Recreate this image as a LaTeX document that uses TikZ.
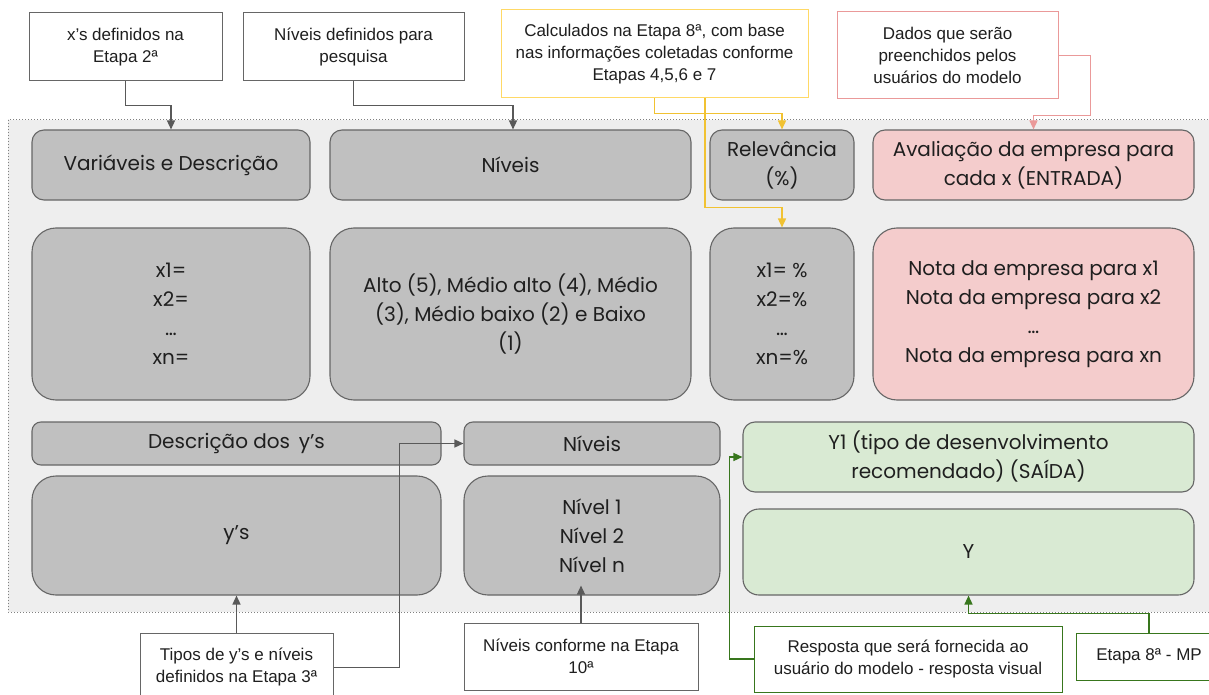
\documentclass[tikz,border=0pt]{standalone}
\usepackage{fontspec}
\setmainfont{Poppins}
\newfontfamily\notefont{Liberation Sans}
\usetikzlibrary{arrows.meta,calc}
\definecolor{ink}{HTML}{1F1F1F}
\definecolor{edge}{HTML}{666666}
\definecolor{boxgray}{HTML}{C0C0C0}
\definecolor{bggray}{HTML}{EEEEEE}
\definecolor{pinkfill}{HTML}{F4CCCC}
\definecolor{pinkline}{HTML}{EA9999}
\definecolor{greenfill}{HTML}{D9EAD3}
\definecolor{greenline}{HTML}{38761D}
\definecolor{yellowline}{HTML}{FFD966}
\definecolor{yellowarrow}{HTML}{F1C232}
\definecolor{arrowgray}{HTML}{595959}
\begin{document}
\begin{tikzpicture}[x=1pt,y=-1pt,
  panel/.style={draw=edge, line width=1.1pt, rounded corners=12pt, fill=boxgray,
    align=center, text=ink, inner sep=0pt, font=\fontsize{20}{29}\selectfont},
  bigpanel/.style={panel, rounded corners=24pt},
  entrada/.style={fill=pinkfill},
  saida/.style={fill=greenfill},
  note/.style={draw=edge, line width=1pt, fill=white, align=center, text=ink,
    inner sep=0pt, font=\notefont\fontsize{17}{22}\selectfont},
  conn/.style={line width=1.4pt, draw=arrowgray,
    -{Triangle[length=9pt,width=8pt,fill=arrowgray]}},
  yconn/.style={conn, line width=1.6pt, draw=yellowarrow, -{Triangle[length=9pt,width=8pt,fill=yellowarrow]}},
  pconn/.style={conn, draw=pinkline, -{Triangle[length=9pt,width=8pt,fill=pinkline]}},
  gconn/.style={conn, draw=greenline, -{Triangle[length=9pt,width=8pt,fill=greenline]}}]
\useasboundingbox (0,0) rectangle (1209,695);

% model area
\draw[fill=bggray, draw=gray, dotted, line width=1pt] (8,120) rectangle (1220,612);

% header row
\node[panel, minimum width=278, minimum height=70] (var) at (171,165) {Variáveis e Descrição};
\node[panel, minimum width=361, minimum height=70] (niv) at (510.5,165) {Níveis};
\node[panel, minimum width=144, minimum height=70] (rel) at (782,165) {Relevância\\(\%)};
\node[panel, entrada, minimum width=321, minimum height=70] (aval) at (1033.5,165) {Avaliação da empresa para\\cada x (ENTRADA)};

% contents row
\node[bigpanel, minimum width=278, minimum height=172] (xs) at (171,314) {x1=\\x2=\\\dots\\xn=};
\node[bigpanel, minimum width=361, minimum height=172] (alto) at (510.5,314) {Alto (5), Médio alto (4), Médio\\(3), Médio baixo (2) e Baixo\\(1)};
\node[bigpanel, minimum width=144, minimum height=172] (pct) at (782,314) {x1= \%\\x2=\%\\\dots\\xn=\%};
\node[bigpanel, entrada, minimum width=321, minimum height=172] (nota) at (1033.5,314) {Nota da empresa para x1\\Nota da empresa para x2\\\dots\\Nota da empresa para xn};

% outputs
\node[panel, rounded corners=9pt, minimum width=409, minimum height=43] (desc) at (236.5,443.5) {Descrição dos\, y’s};
\node[panel, rounded corners=9pt, minimum width=256, minimum height=43] (niv2) at (592,443.5) {Níveis};
\node[panel, saida, minimum width=451, minimum height=70] (y1) at (968.5,457) {Y1 (tipo de desenvolvimento\\recomendado) (SAÍDA)};
\node[bigpanel, minimum width=409, minimum height=119] (ys) at (236.5,535.5) {y’s};
\node[bigpanel, minimum width=256, minimum height=119] (niveln) at (592,535.5) {Nível 1\\Nível 2\\Nível n};
\node[bigpanel, saida, rounded corners=16pt, minimum width=451, minimum height=86] (ybox) at (968.5,552) {Y};

% annotations
\node[note, minimum width=193, minimum height=68] (n1) at (125.5,47) {x’s definidos na\\Etapa 2ª};
\node[note, minimum width=221, minimum height=68] (n2) at (353.5,47) {Níveis definidos para\\pesquisa};
\node[note, draw=yellowline, minimum width=307, minimum height=88] (n3) at (654.5,54) {Calculados na Etapa 8ª, com base\\nas informações coletadas conforme\\Etapas 4,5,6 e 7};
\node[note, draw=pinkline, minimum width=221, minimum height=87] (n4) at (947.5,55.5) {Dados que serão\\preenchidos pelos\\usuários do modelo};
\node[note, minimum width=193, minimum height=67] (n5) at (236.5,666.5) {Tipos de y’s e níveis\\definidos na Etapa 3ª};
\node[note, minimum width=234, minimum height=67] (n6) at (581,656.5) {Níveis conforme na Etapa\\10ª};
\node[note, draw=greenline, minimum width=308, minimum height=66] (n7) at (908,659) {Resposta que será fornecida ao\\usuário do modelo - resposta visual};
\node[note, draw=greenline, minimum width=146, minimum height=47] (n8) at (1149,656.5) {Etapa 8ª - MP};

% connectors
\draw[conn] (n1.south) -- ++(0,24) -| (var.north);
\draw[conn] (n2.south) -- ++(0,24) -| ([xshift=2.5pt]niv.north);
\draw[yconn] (n3.south) -- ++(0,15) -| (rel.north);
\draw[yconn] ([xshift=50.5pt]n3.south) -- ++(0,109) -| (pct.north);
\draw[pconn] (n4.east) -- ++(32,0) -- ++(0,60) -| (aval.north);
\draw[conn] (n5.north) -- (ys.south);
\draw[conn] ([yshift=-1pt]n5.east) -- ++(66,0) |- (niv2.west);
\draw[conn] (n6.north) -- ([yshift=10pt]n6.north |- niveln.south);
\draw[gconn] (n7.west) -- ++(-24,0) |- (y1.west);
\draw[gconn] (n8.north) -- ++(0,-19) -| (ybox.south);
\end{tikzpicture}
\end{document}
